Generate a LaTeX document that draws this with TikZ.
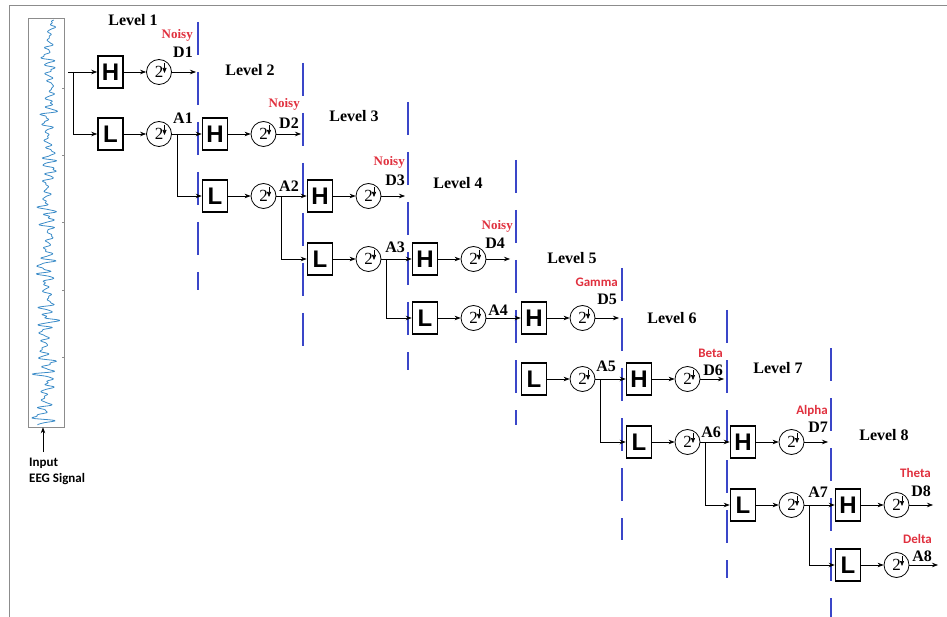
\documentclass[tikz,border=0pt]{standalone}
\usepackage{fontspec}
\setmainfont{Liberation Serif}
\newfontfamily\filtfont{Liberation Sans}
\newfontfamily\bandfont{Carlito}
\usetikzlibrary{arrows.meta,positioning,calc}
\definecolor{dwtblue}{HTML}{3A46C8}
\definecolor{dwtred}{HTML}{E0303E}
\definecolor{eegblue}{HTML}{3C8CC8}
\definecolor{framegray}{HTML}{8C8C8C}

\begin{document}
\begin{tikzpicture}[x=1pt, y=-1pt,
    filt/.style={draw, line width=1.6pt, minimum width=25pt, minimum height=32pt,
                 inner sep=0pt, font=\filtfont\bfseries\fontsize{24}{24}\selectfont},
    down/.style={draw, circle, line width=0.8pt, minimum size=25pt, inner sep=0pt,
                 font=\fontsize{17}{17}\selectfont},
    arr/.style={-{Stealth[length=6pt, width=4.5pt]}, line width=0.7pt},
    tip/.style={-{Triangle[length=5pt, width=4pt]}, line width=0.6pt},
    lvl/.style={font=\bfseries\fontsize{16}{18}\selectfont},
    coef/.style={anchor=east, inner sep=0pt, font=\bfseries\fontsize{16}{18}\selectfont},
    noisy/.style={anchor=east, inner sep=0pt, text=dwtred,
                  font=\bfseries\fontsize{13}{15}\selectfont},
    band/.style={anchor=east, inner sep=0pt, text=dwtred,
                 font=\bandfont\bfseries\fontsize{13}{15}\selectfont},
    cut/.style={dwtblue, line width=2.4pt, dash pattern=on 33pt off 17pt},
  ]
  \useasboundingbox (0,0) rectangle (947,617);
  \draw[framegray, line width=0.8pt] (9,617) -- (9,5) -- (947,5);

  % input signal
  \node[draw=framegray, line width=0.6pt, minimum width=36pt, minimum height=409pt,
        inner sep=0pt] (eeg) at (46,222.5) {};
  \draw[eegblue, line width=0.8pt, line join=round] plot[domain=20:425, samples=700, variable=\t]
    ({50 - 5*(\t-20)/405 + 2*sin(mod(\t,72)*5)
      + (3 + 2.5*(\t-20)/405)*(1 + 0.45*sin(mod(\t,51.4286)*7+20))
      *(sin(mod(\t,8.37209)*43) + 0.5*sin(mod(\t,21.17647)*17+40)
      + 0.45*sin(mod(\t,5.53846)*65+70) + 0.3*sin(mod(\t,3.71134)*97+10))}, \t);
  \foreach \ty in {88,155,222,290,357}
    \draw[framegray, line width=0.5pt] (eeg.east |- 0,\ty) -- ++(-2.5,0);
  \node[anchor=north west, inner sep=0pt, align=left,
        font=\bandfont\bfseries\fontsize{13}{16}\selectfont] (inlbl) at (29,458) {Input\\EEG Signal};
  \coordinate (inarr) at (43,452);
  \draw[arr] (inarr) -- (inarr |- eeg.south);

  % level boundaries
  \foreach \x/\top/\bot in {198/22/290, 303/63/350, 408/102/370, 516/160/425,
                            622/268/540, 727/310/578, 831/348/617}
    \draw[cut] (\x,\top) -- (\x,\bot);

  % filter bank
  \foreach \k/\c/\rt/\rb in {1/110.5/72/134, 2/215/134/196, 3/320/196/259, 4/425/259/318,
                             5/534/318/379, 6/639/379/442, 7/743/442/505, 8/848/505/565}{
    \node[filt] (h\k) at (\c,\rt) {H};
    \node[filt] (l\k) at (\c,\rb) {L};
    \node[down] (dh\k) at (\c+48.5,\rt) {2\hspace{5pt}};
    \node[down] (dl\k) at (\c+48.5,\rb) {2\hspace{5pt}};
    \draw[arr] (h\k) -- (dh\k);
    \draw[arr] (l\k) -- (dl\k);
    \foreach \n in {dh\k,dl\k}
      \draw[tip] ([shift={(5.5pt,9pt)}]\n.center) -- ([shift={(5.5pt,-1pt)}]\n.center);
  }

  % input split
  \coordinate (in) at (68,72);
  \coordinate (split) at (73,72);
  \draw[arr] (in) -- (h1);
  \draw[arr] (split) |- (l1);

  % approximations
  \foreach \k/\n in {1/2,2/3,3/4,5/6,6/7,7/8}{
    \coordinate (a\k) at ($(dl\k.east)+(5,0)$);
    \draw[arr] (dl\k) -- (h\n);
    \draw[arr] (a\k) |- (l\n);
  }
  \draw[arr] (dl4) -- (h5);
  \coordinate (a8) at (938,565);
  \draw[arr] (dl8) -- (a8);

  % details
  \foreach \k/\ex/\ry/\lx/\ly/\rx/\bry/\bname/\st in {
      1/196/72/193/52/193/35/Noisy/noisy, 2/301/134/299/123/300/104/Noisy/noisy,
      3/405/196/405/180/405/162/Noisy/noisy, 4/510/259/505/243/513/226/Noisy/noisy,
      5/619/318/617/299/618/282/Gamma/band, 6/724/379/723/370/723/353/Beta/band,
      7/828/442/828/427/828/411/Alpha/band, 8/933/505/931/491/931/473/Theta/band}{
    \coordinate (d\k) at (\ex,\ry);
    \draw[arr] (dh\k) -- (d\k);
    \node[coef] (dlbl\k) at (\lx,\ly) {D\k};
    \node[\st] (blbl\k) at (\rx,\bry) {\bname};
  }

  % approximation labels
  \foreach \k/\x/\y in {1/193/118, 2/299/186, 3/405/247, 4/508/310,
                        5/616/366, 6/721/432, 7/828/492, 8/932/556}
    \node[coef] (albl\k) at (\x,\y) {A\k};
  \node[band] (delta) at (932,539) {Delta};

  % level titles
  \foreach \k/\x/\y in {1/133/20, 2/250/70, 3/354/116, 4/458/183,
                        5/572/258, 6/672/318, 7/778/368, 8/884/435}
    \node[lvl] (lvl\k) at (\x,\y) {Level \k};
\end{tikzpicture}
\end{document}
